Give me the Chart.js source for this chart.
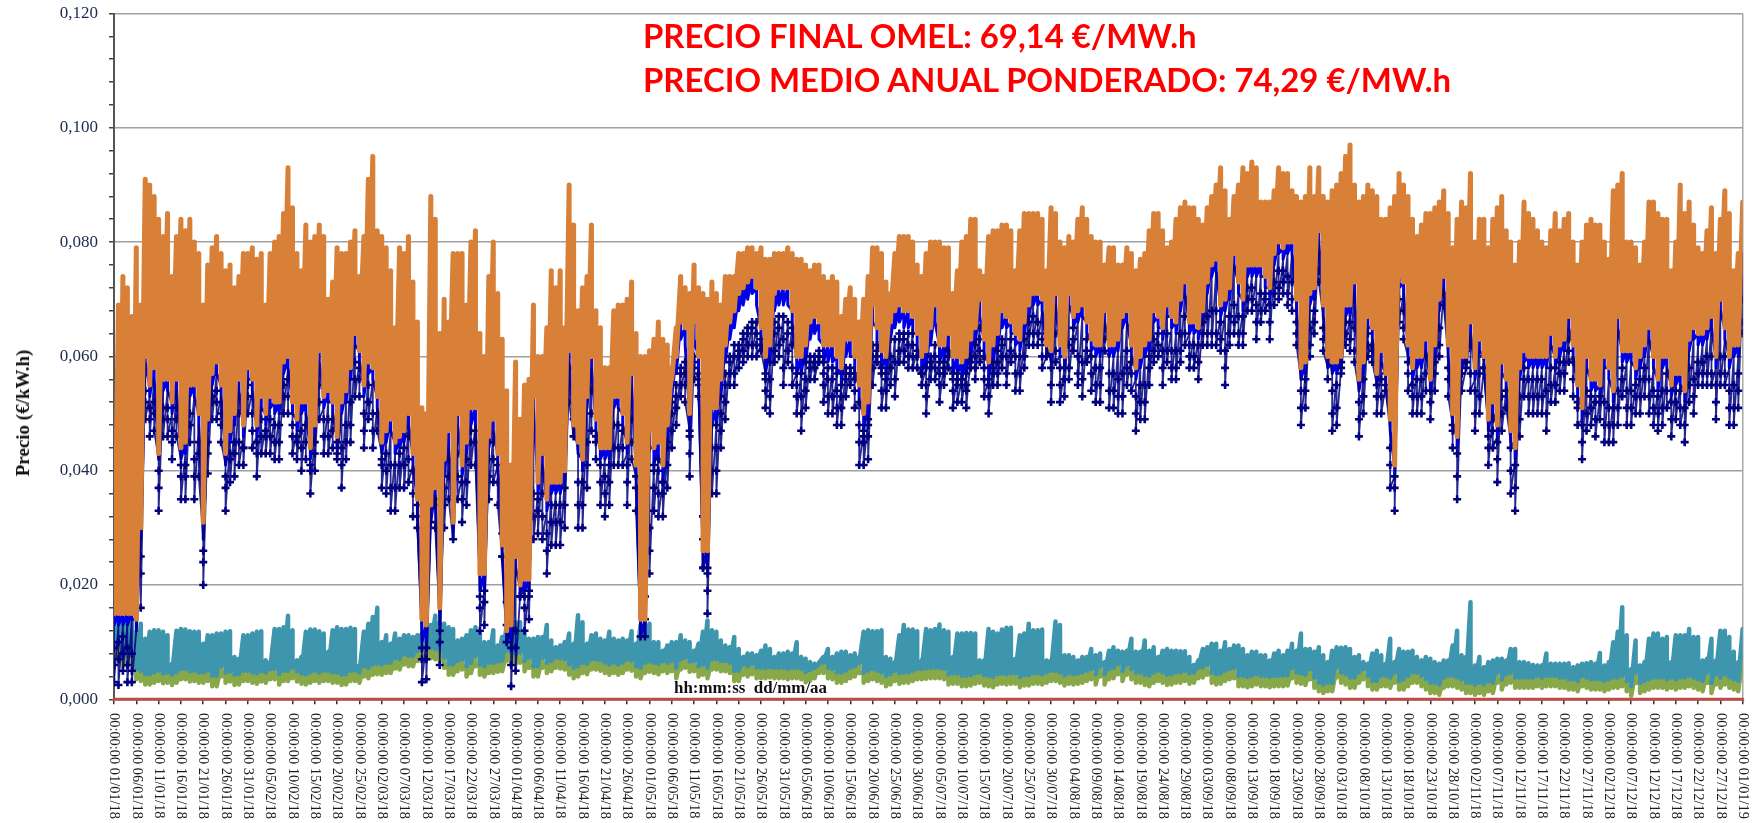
<!DOCTYPE html>
<html>
<head>
<meta charset="utf-8">
<title>Precio 2018</title>
<script src="https://cdn.jsdelivr.net/npm/chart.js@4/dist/chart.umd.min.js"></script>
<style>
    body { margin: 0; background: #fff; }
    #wrap { position: relative; width: 1756px; height: 823px; overflow: hidden; }
    .cabecera { position: absolute; left: 643px; color: #ff0000; font: bold 32.9px Lato, sans-serif; white-space: nowrap; }
    #ejeY { position: absolute; left: 23px; top: 413px; transform: translate(-50%, -50%) rotate(-90deg); font: bold 19px "Liberation Serif", serif; color: #111; white-space: nowrap; }
    #ejeX { position: absolute; left: 674px; top: 678px; font: bold 16.9px "Liberation Serif", serif; color: #111; white-space: pre; }
</style>
</head>
<body>
<div id="wrap">
    <canvas id="grafico" width="1756" height="823"></canvas>
    <div class="cabecera" style="top:16px">PRECIO FINAL OMEL: 69,14 €/MW.h</div>
    <div class="cabecera" style="top:60px">PRECIO MEDIO ANUAL PONDERADO: 74,29 €/MW.h</div>
    <div id="ejeY">Precio (€/kW.h)</div>
    <div id="ejeX">hh:mm:ss  dd/mm/aa</div>
</div>
<script>
// Tick dates of the time axis, one every 5 days
const tickDates = ["01/01/18","06/01/18","11/01/18","16/01/18","21/01/18","26/01/18","31/01/18","05/02/18","10/02/18","15/02/18","20/02/18","25/02/18",
    "02/03/18","07/03/18","12/03/18","17/03/18","22/03/18","27/03/18","01/04/18","06/04/18","11/04/18","16/04/18","21/04/18","26/04/18",
    "01/05/18","06/05/18","11/05/18","16/05/18","21/05/18","26/05/18","31/05/18","05/06/18","10/06/18","15/06/18","20/06/18","25/06/18","30/06/18",
    "05/07/18","10/07/18","15/07/18","20/07/18","25/07/18","30/07/18","04/08/18","09/08/18","14/08/18","19/08/18","24/08/18","29/08/18",
    "03/09/18","08/09/18","13/09/18","18/09/18","23/09/18","28/09/18","03/10/18","08/10/18","13/10/18","18/10/18","23/10/18","28/10/18",
    "02/11/18","07/11/18","12/11/18","17/11/18","22/11/18","27/11/18","02/12/18","07/12/18","12/12/18","17/12/18","22/12/18","27/12/18","01/01/19"];

const orangeMax = [
34,69,74,72,67,79,69,91,90,88, 84,81,85,74,81,84,82,84,80,78, 69,76,79,81,78,75,76,72,74,78, 78,79,77,78,69,78,80,81,85,93,
86,78,75,83,80,81,83,81,70,73, 79,78,78,80,82,74,81,91,95,82, 81,79,75,65,79,78,81,73,66,51, 50,88,84,64,70,66,78,78,78,69,
80,82,64,60,74,80,71,63,54,41, 59,49,55,56,69,60,60,65,75,72, 75,65,90,83,68,72,74,83,68,65, 58,58,68,69,69,70,73,64,60,60,
61,63,66,63,62,58,65,74,72,71, 76,72,71,70,73,71,69,74,74,74, 78,78,79,79,78,79,77,77,78,78, 78,79,78,77,77,76,75,76,76,74,
73,74,73,67,70,72,70,66,70,74, 79,79,78,73,71,78,81,81,81,80, 76,74,78,80,80,80,79,79,71,75, 80,81,84,84,75,74,81,82,82,83,
83,82,75,82,85,85,85,85,84,75, 86,85,80,79,81,80,84,86,84,81, 80,80,76,79,79,76,76,79,78,75, 77,78,82,85,85,82,79,80,84,86,
87,86,86,84,83,86,88,90,93,89, 84,88,90,93,92,94,93,87,87,87, 89,93,92,92,89,88,87,88,93,88, 93,88,87,89,90,92,95,97,90,87,
88,90,89,88,84,84,86,88,92,90, 88,84,81,83,85,85,86,87,89,85, 79,84,87,86,92,80,84,84,79,84, 86,88,82,80,76,80,87,85,84,82,
80,79,82,85,82,84,85,80,76,80, 83,84,83,83,80,77,89,90,92,80, 80,79,76,80,87,87,85,84,84,75, 80,90,85,87,83,79,78,82,86,78,
84,89,85,75,78,87];
const orangeMin = [
15,15,15,15,15,14,30,60,55,58, 43,56,56,52,56,44,45,55,55,50, 31,49,57,59,55,43,47,50,56,48, 58,56,48,53,50,53,52,52,59,60,
52,49,52,52,44,48,61,53,54,52, 46,52,54,58,64,61,55,59,58,53, 45,47,49,45,46,47,50,43,35,14, 13,34,37,16,42,47,31,50,41,45,
51,51,22,22,46,49,43,27,12,13, 25,20,21,21,53,38,43,35,38,38, 38,40,61,48,45,42,53,60,49,44, 44,44,53,53,50,45,57,41,14,14,
47,44,45,41,48,56,60,66,65,50, 66,60,26,26,51,51,56,62,66,68, 71,72,73,74,72,65,60,62,71,72, 72,72,68,60,60,62,66,67,66,62,
62,62,60,58,63,63,60,55,50,52, 69,65,61,60,66,68,69,68,68,67, 64,60,61,65,69,62,62,64,60,60, 59,60,63,65,70,63,59,62,64,68,
67,66,64,63,66,69,71,71,70,62, 61,71,62,60,71,67,68,69,66,63, 62,62,68,62,62,63,67,68,62,58, 60,62,63,68,67,65,69,67,66,70,
73,66,66,65,68,73,76,77,69,70, 72,78,73,70,76,76,76,76,74,72, 78,80,79,80,80,70,58,59,71,72, 82,69,60,59,59,60,69,69,73,56,
59,67,65,57,61,57,49,41,74,73, 62,58,60,60,63,56,62,70,74,62, 50,46,60,60,66,58,63,60,49,52, 48,59,56,47,44,58,61,60,60,60,
60,60,64,60,62,63,67,62,55,51, 60,56,56,55,60,58,54,67,61,61, 61,58,60,62,65,60,56,60,60,55, 57,57,54,63,65,64,64,65,67,60,
70,65,60,62,62,78];
const blueMin = [
13,13,13,13,14,12,28,59,53,56, 42,54,54,50,54,42,43,53,53,48, 28,47,55,57,53,41,45,48,54,46, 56,54,46,51,48,51,50,50,57,58,
50,47,50,50,42,46,59,51,52,50, 44,50,52,56,62,59,53,57,56,51, 43,45,47,43,44,45,48,41,32,10, 10,31,35,13,39,44,28,48,39,43,
48,48,19,19,44,47,41,25,10,10, 23,18,19,19,51,36,41,33,36,36, 36,38,59,46,43,40,51,58,47,42, 42,42,51,51,48,43,55,39,11,11,
44,41,42,38,45,53,57,63,62,47, 63,57,23,23,48,48,53,59,63,65, 68,69,70,71,69,62,57,59,68,69, 69,69,65,57,57,59,63,64,63,59,
59,59,57,55,60,60,57,52,47,49, 66,62,58,57,63,65,66,65,65,64, 61,57,58,62,66,59,59,61,57,57, 56,57,60,62,67,60,56,59,61,65,
65,64,62,61,64,67,69,69,68,60, 59,69,60,58,69,65,66,67,64,61, 60,60,66,60,60,61,65,66,60,56, 58,60,61,66,65,63,67,65,64,68,
71,64,64,63,66,71,74,75,67,68, 70,76,71,68,74,74,74,74,72,70, 76,78,77,78,78,68,56,57,69,70, 80,67,58,57,57,58,67,67,71,54,
57,65,63,55,59,55,47,39,72,71, 60,56,58,58,61,54,60,68,72,60, 48,44,58,58,64,56,61,58,47,50, 46,57,54,45,42,56,59,58,58,58,
58,58,62,58,60,61,65,60,53,49, 58,54,54,53,58,56,52,65,59,59, 59,56,58,60,63,58,54,58,58,53, 55,55,52,61,63,62,62,63,65,58,
68,63,58,60,60,74];
// Top of the navy stems for days 120 to 199, where white shows between them and the blue caps
const navyTopSummer = [
44,41,42,38,45,52,55,58,59,47, 60,57,23,23,48,48,53,57,60,62, 62,64,65,66,66,62,57,59,66,67, 67,66,65,57,57,59,60,60,60,59,
58,58,57,55,58,58,57,52,47,49, 62,62,58,57,63,63,64,64,64,64, 61,57,58,60,62,59,59,61,57,57, 56,57,60,62,65,60,56,59,61,63];
const navyUpper = [
9,10,11,9,8,38,25,54,51,52, 40,51,51,47,51,41,41,50,42,45, 26,45,53,54,50,39,43,45,50,44, 55,50,45,49,47,49,48,48,55,56,
48,46,47,48,41,45,55,49,49,49, 43,44,48,52,59,58,50,55,50,50, 42,43,41,41,43,44,46,40,32,9, 9,31,35,12,37,42,28,43,38,42,
47,47,18,19,42,45,41,25,10,9, 12,18,18,19,36,35,36,29,34,34, 34,37,58,46,38,38,45,54,46,41, 39,41,48,48,47,41,49,39,11,11,
30,40,40,38,44,50,53,57,57,46, 59,56,23,22,44,44,50,55,59,60, 61,63,64,65,64,62,56,56,64,65, 63,64,62,55,53,56,59,59,60,57,
56,56,54,53,57,57,56,48,46,48, 60,61,57,56,60,59,63,63,62,62, 60,57,55,59,60,57,58,60,56,56, 56,55,59,60,63,58,55,58,59,62,
60,63,60,60,63,66,67,66,63,60, 58,64,58,58,62,65,60,59,63,60, 58,58,65,57,57,56,57,61,59,53, 55,55,60,63,64,61,64,61,61,64,
67,62,62,62,66,67,68,68,66,61, 67,69,67,67,72,72,69,71,71,69, 73,75,75,74,73,66,54,56,65,68, 78,65,56,54,55,58,66,66,65,52,
56,64,62,55,56,55,44,39,70,68, 59,55,56,56,60,54,59,65,71,58, 48,43,57,58,62,54,57,58,46,49, 45,53,54,44,41,53,58,56,56,56,
56,54,58,58,59,59,63,59,52,48, 54,53,52,53,52,51,51,54,58,54, 54,55,56,58,56,54,53,54,57,52, 54,54,51,58,56,59,59,60,60,55,
60,60,54,55,57,70];
const navyMid = [
6,7,8,6,5,35,22,52,49,50, 37,49,49,45,49,39,39,48,39,43, 24,43,52,52,48,37,42,43,45,44, 53,47,43,46,46,46,45,45,53,53,
46,45,44,45,40,43,52,46,46,47, 45,41,45,48,56,56,47,52,47,50, 41,40,37,37,41,41,42,36,34,7, 7,38,34,10,34,39,39,39,35,38,
45,45,16,17,39,42,38,29,17,6, 9,22,16,18,32,33,32,26,31,31, 31,34,55,52,34,34,41,50,45,38, 36,38,44,44,44,38,45,37,37,18,
26,37,36,36,41,47,51,55,55,43, 58,55,32,19,40,40,47,52,57,57, 60,61,62,62,62,63,54,53,61,62, 58,61,58,53,50,54,58,58,61,55,
53,53,51,51,56,57,54,45,45,46, 58,60,54,54,58,56,61,61,60,60, 60,57,53,58,58,55,57,60,54,55, 55,54,60,58,61,56,53,57,57,60,
57,61,57,57,60,64,64,64,60,64, 55,61,55,56,58,63,57,56,61,57, 55,55,63,54,54,53,53,58,57,50, 52,52,58,61,62,58,61,58,58,61,
64,60,60,59,64,64,64,64,63,58, 64,66,64,64,70,70,66,68,70,66, 71,72,73,71,70,64,51,54,62,66, 75,63,63,50,51,59,64,63,61,49,
53,62,61,53,53,57,41,37,68,65, 57,53,53,53,57,52,57,62,71,56, 47,39,57,61,57,50,53,60,44,47, 42,50,54,40,37,49,56,53,53,53,
53,50,55,55,57,57,61,56,51,45, 50,51,49,52,48,48,48,51,56,51, 51,53,53,56,53,51,50,51,54,49, 52,51,48,55,53,57,57,57,57,52,
57,57,51,51,54,66];
const navyMin = [
3,2.5,5,3,3,31,16,49,46,47, 33,46,46,42,46,35,35,45,35,39, 20,39.5,49,49,45,33,38,39,41,41, 50,44,39,43,43,43,42,42,50,50,
43,42,40,42,36,40,49,43,43,44, 42,37,42,45,53,53,44,49,44,47, 37,36,33,33,37,37,38,32,30,3, 3.5,34,30,6,30,35,35,35,31,34,
41,41,12,13,35,38,34,25,13,2.3, 5,18,12,14,28,29,28,22,27,27, 27,30,52,49,30,30,37,47,42,34, 32,34,41,41,41,34,42,33,33,14,
22,33,32,32,37,44,48,53,52,39, 56,53,28,15,36,36,44,49,55,55, 58,59,60,60,60,61,51,50,59,60, 55,59,55,50,47,51,56,56,59,52,
50,50,48,48,53,55,51,41,41,42, 55,59,51,51,55,53,59,59,58,58, 58,55,50,56,56,52,55,58,51,52, 52,51,58,56,59,53,50,55,55,58,
55,59,54,54,58,62,62,62,58,62, 52,59,52,53,56,61,55,53,59,54, 52,52,61,51,51,50,50,55,54,47, 49,49,55,59,60,55,59,56,56,59,
62,58,58,56,62,62,62,62,61,55, 62,64,62,62,68,68,63,66,68,63, 69,70,71,69,68,62,48,51,60,64, 73,61,61,47,48,57,62,61,59,46,
50,60,59,50,50,54,37,33,66,63, 54,50,50,50,54,49,54,60,69,53, 44,35,54,59,54,47,50,58,41,44, 38,47,51,36,33,46,53,50,50,50,
50,47,52,52,54,54,59,53,48,42, 47,48,46,49,45,45,45,48,53,48, 48,50,50,53,50,48,47,48,51,46, 49,48,45,52,50,55,55,55,55,49,
55,55,48,48,51,64];
const tealMax = [
13.2,13.5,13.5,13.8,13.8,11.8,13.2,10.6,11.8,12.1, 12.1,11.8,11.2,6.2,12,12.3,12.2,11.9,11.8,11.8, 9.7,11.2,11.2,11.5,11.5,11.8,11.9,7.4,7.1,11.2,
11.2,11.5,11.8,11.9,6.8,6.5,12.3,12.3,12.6,14.6, 12.1,6.8,7.4,11.8,12.2,12.2,11.9,11.5,8.3,12.1, 12.6,12.3,12.3,12.5,12.3,5.9,11.8,13.2,14.4,16,
10,11.2,9.7,11.5,10.6,11.2,11.2,10.9,11.2,11.5, 13,13,14.6,13.5,13.2,12.6,12.3,10.3,10.6,11.2, 12.1,12.6,11.8,10,10,12.1,9.4,10.9,13,13.2,
13.5,13.5,12.1,10.6,10.6,10.9,10.9,13,10.3,9.1, 9.4,10,11.5,9.7,14.7,13.5,9.7,11.2,11.5,10.6, 10.3,11.8,10.6,10.3,10.6,10.3,11.9,9.7,13,13,
13.2,10,10,8.5,9.4,10,10,11.2,10.3,10, 8.5,9.7,11.8,13.8,12.1,11.8,10.3,9.4,9.1,10.9, 8.8,7.4,8,8,7.7,8.5,9.4,8.8,7.4,8,
8,8.3,8,10,7.4,7.1,6.5,6.2,6.2,7.4, 8.8,7.4,8,8.3,8.3,7.7,8,7.4,11.8,12.1, 11.9,11.9,12.1,7.4,7.1,6.5,11.2,13,12.2,12.2,
11.9,6.8,12.3,12.1,12.3,13.1,12.1,11.8,7.4,11.5, 11.5,11.6,11.6,11.5,6.8,6.8,12.3,11.8,11.5,12.2, 12.5,12.5,7.1,11.2,11.5,13.2,12.1,12.1,12.2,6.8,
6.8,13.6,13,7.7,7.7,7.4,6.8,7.4,7.4,8.8, 7.7,8,6.5,8.5,9.1,8.5,8.3,8.5,10.6,8.3, 8.3,10.3,8.5,9.1,7.4,8.5,8.8,8.5,8.5,8.4,
8.4,7.4,6,6.8,8.8,9.1,9.7,9.7,8.5,10, 8.8,9.4,9.4,8.8,7.7,8.3,8.3,7.7,7.7,6.8, 8,8.5,7.7,8.5,9.7,8.5,11.5,8.8,8.8,8.3,
9.1,7.7,6.5,8.5,9.1,9,9.1,8.8,7.4,7.7, 6.5,6.2,8,8.5,7.7,6.2,10.6,6.5,8.8,8.3, 8.3,8.5,7.4,6.8,7.4,7.1,6.5,6.2,6.8,6.8,
9.4,12,7.7,7.4,17,5.9,7.4,5.6,6.5,6.8, 7.1,7.1,6.8,8.8,8.8,6.5,6.5,6.3,6,5.9, 5.9,8,6.2,6.2,6.2,6.2,6.3,5.6,5.9,6.2,
6.3,6.5,6.2,8.1,5.9,6.5,10,11.8,16.1,11.2, 5.3,10.3,5.9,6.5,10.6,11.5,11.5,10.6,10.9,6.5, 11.2,11.2,11.2,12.3,10.9,10.9,6.8,7.1,10.6,6.8,
12,12,10.9,8.3,6.5,12.3];
const tealMin = [
9.3,9.3,7.6,7.6,8.5,5.3,5,4.4,4.4,4.7, 5,4.5,4.7,4.3,4.7,5.3,5.3,4.9,5,4.7, 4.7,5,4.1,4.1,5.8,4.7,4.9,4.3,4.4,5,
5,4.7,4.5,4.9,4.7,5.3,5.3,4.4,5,5, 5.5,4.9,4.5,4.4,4.7,5,4.7,5,5,4.7, 4.7,4.3,4.4,5,5,4.7,5.8,5.5,6.1,6.2,
6.1,6.4,6.4,7.2,7,7.9,7.6,7.6,8.5,8.5, 8.8,9,8.8,8.5,7.3,6.1,6.1,6.7,7,5.8, 6.4,7.6,6.1,5.8,6.4,6.4,6.6,6.7,8.5,8.2,
7.9,8.2,6.7,7.3,5.8,5.8,7.3,6.4,6.7,7.3, 7.2,7,6.1,5.5,5.8,6.4,6.2,7,7,6.8, 6.4,6.1,6.4,6.1,6.4,7,6.8,5.8,5.5,6.4,
6.6,6.4,6.2,6.7,6.4,6.7,5.5,7,7.3,6.6, 6.7,5.8,6.1,5.5,7,7,6.7,6.7,6.4,5, 5,6.1,5.8,6.2,5.5,5.5,5.5,5.6,5.5,5.5,
5.5,5.3,5.5,5.5,5.3,4.8,5.1,5.5,6.4,6.4, 5.5,5.3,4.7,4.7,5,5.5,5.8,6.4,4.7,5, 5.3,5,4.7,4.1,4.4,5,4.5,4.7,4.7,5,
5.3,5.3,5.4,5.5,5.5,5.5,5.3,4.4,4.5,4.5, 4.1,4.1,4.2,4.5,4.7,4.2,4.1,3.9,4.4,4.5, 4.4,4.5,4.5,3.9,4.2,4.2,4.5,4.5,4.4,4.7,
5,5,4.7,4.2,4.5,4.4,4.5,4.7,5,5.3, 4.4,5.8,4.4,5.3,5.5,6.2,5,6.1,5.3,4.7, 4.7,4.3,4.1,4.7,5,4.7,4.3,4.4,4.7,4.7,
5,4.5,4.7,5.5,5.6,6.1,4.7,4.4,4.5,5, 5.3,5.5,4.1,4.1,3.9,4.1,4.4,4.1,4.1,3.9, 4.1,4.1,4.1,4.2,5.5,4.7,4.5,4.3,5.3,3.8,
2.9,2.6,2.9,2.9,5.6,4.7,4.4,3.8,3.8,4.7, 5.3,4.1,3.2,3.2,4.1,4.1,3.8,4.7,3.2,3.5, 4.1,4.7,4.7,4.1,3.5,2.9,2.9,2.6,3.8,4.1,
4.1,3.8,3.5,2.9,2.9,2.6,2.9,2.6,3.2,2.9, 4.7,3.5,4.4,4.7,3.8,3.8,3.8,3.8,3.8,4.1, 3.8,4.1,4.1,4.1,3.8,3.8,3.5,3.5,3.2,4.1,
3.8,3.5,3.5,3.5,3.2,3.5,3.8,3.8,4.1,3.2, 2.3,4.7,2.9,3.2,3.5,3.8,3.8,3.8,3.5,3.8, 3.5,3.8,3.8,4.1,3.8,3.5,3.2,4.7,2.9,4.4,
3.8,4.4,3.8,3.5,3.2,7.3];
const greenMin = [
7.5,7.5,5.8,5.8,6.5,3.5,3.2,2.6,2.6,2.9, 3.2,2.8,2.9,2.5,2.9,3.5,3.5,3.1,3.2,2.9, 2.9,3.2,2.3,2.3,4,2.9,3.1,2.5,2.6,3.2,
3.2,2.9,2.7,3.1,2.9,3.5,3.5,2.6,3.2,3.2, 3.7,3.1,2.7,2.6,2.9,3.2,2.9,3.2,3.2,2.9, 2.9,2.5,2.6,3.2,3.2,2.9,4,3.7,4.3,4.4,
4.3,4.6,4.6,5.4,5.2,6.1,5.8,5.8,6.7,6.7, 7,7.2,7,6.7,5.5,4.3,4.3,4.9,5.2,4, 4.6,5.8,4.3,4,4.6,4.6,4.8,4.9,6.7,6.4,
6.1,6.4,4.9,5.5,4,4,5.5,4.6,4.9,5.5, 5.4,5.2,4.3,3.7,4,4.6,4.4,5.2,5.2,5, 4.6,4.3,4.6,4.3,4.6,5.2,5,4,3.7,4.6,
4.8,4.6,4.4,4.9,4.6,4.9,3.7,5.2,5.5,4.8, 4.9,4,4.3,3.7,5.2,5.2,4.9,4.9,4.6,3.2, 3.2,4.3,4,4.4,3.7,3.7,3.7,3.8,3.7,3.7,
3.7,3.5,3.7,3.7,3.5,3,3.3,3.7,4.6,4.6, 3.7,3.5,2.9,2.9,3.2,3.7,4,4.6,2.9,3.2, 3.5,3.2,2.9,2.3,2.6,3.2,2.7,2.9,2.9,3.2,
3.5,3.5,3.6,3.7,3.7,3.7,3.5,2.6,2.7,2.7, 2.3,2.3,2.4,2.7,2.9,2.4,2.3,2.1,2.6,2.7, 2.6,2.7,2.7,2.1,2.4,2.4,2.7,2.7,2.6,2.9,
3.2,3.2,2.9,2.4,2.7,2.6,2.7,2.9,3.2,3.5, 2.6,4,2.6,3.5,3.7,4.4,3.2,4.3,3.5,2.9, 2.9,2.5,2.3,2.9,3.2,2.9,2.5,2.6,2.9,2.9,
3.2,2.7,2.9,3.7,3.8,4.3,2.9,2.6,2.7,3.2, 3.5,3.7,2.3,2.3,2.1,2.3,2.6,2.3,2.3,2.1, 2.3,2.3,2.3,2.4,3.7,2.9,2.7,2.5,3.5,2,
1.4,1.1,1.4,1.4,3.8,2.9,2.6,2,2,2.9, 3.5,2.3,1.7,1.7,2.3,2.3,2,2.9,1.7,1.7, 2.3,2.9,2.9,2.3,1.7,1.1,1.1,0.8,2,2.3,
2.3,2,1.7,1.1,1.1,0.8,1.1,0.8,1.4,1.1, 2.9,1.7,2.6,2.9,2,2,2,2,2,2.3, 2,2.3,2.3,2.3,2,2,1.7,1.7,1.4,2.3,
2,1.7,1.7,1.7,1.4,1.7,2,2,2.3,1.4, 0.6,2.9,1.1,1.4,1.7,2,2,2,1.7,2, 1.7,2,2,2.3,2,1.7,1.4,2.9,1.1,2.6,
2,2.6,2,1.7,1.4,5.5];
const redDays = [0, 365];
const redValues = [0, 0];

// Each day goes from its high to its low, the way the hourly curve zigzags
function zigzag(levels) {
    const points = [];
    levels[0].forEach(function (v, day) {
        levels.forEach(function (level) {
            points.push({ x: day, y: level[day] });
        });
    });
    return points;
}

const navyTop = blueMin.map(function (v, day) {
    return day >= 120 && day < 200 ? navyTopSummer[day - 120] : v;
});

function lineSet(points, color, width, order) {
    return {
        data: points,
        borderColor: color,
        backgroundColor: color,
        borderWidth: width,
        borderJoinStyle: "round",
        borderCapStyle: "round",
        pointRadius: 0,
        tension: 0,
        order: order,
    };
}

const navySet = lineSet(zigzag([navyTop, navyUpper, navyMid, navyMin]), "rgba(0,0,128,0.85)", 1.8, 4);
navySet.pointStyle = "cross";
// No marker on the stem tops except in summer, where they are not hidden by the blue caps
navySet.pointRadius = function (ctx) {
    const isTop = ctx.dataIndex % 4 === 0;
    const day = Math.floor(ctx.dataIndex / 4);
    return isTop && (day < 120 || day >= 200) ? 0 : 4;
};
navySet.pointBorderColor = "#000080";
navySet.pointBackgroundColor = "#000080";
navySet.pointBorderWidth = 2.6;

const redSet = lineSet(redDays.map(function (d, i) { return { x: d, y: redValues[i] }; }), "#bd4b48", 3, 1);
redSet.clip = false;

// The date labels read downwards, which the scale itself cannot align, so they are drawn here
const dateLabels = {
    id: "dateLabels",
    afterDraw: function (chart) {
        const ctx = chart.ctx;
        const xScale = chart.scales.x;
        ctx.save();
        ctx.font = '14.4px "Liberation Serif", serif';
        ctx.fillStyle = "#1a1a1a";
        ctx.textAlign = "left";
        ctx.textBaseline = "middle";
        tickDates.forEach(function (date, i) {
            ctx.save();
            ctx.translate(xScale.getPixelForValue(i * 5), 713);
            ctx.rotate(Math.PI / 2);
            ctx.fillText("00:00:00 " + date, 0, 0);
            ctx.restore();
        });
        ctx.restore();
    },
};

new Chart(document.getElementById("grafico"), {
    type: "line",
    data: {
        datasets: [
            lineSet(zigzag([tealMin, greenMin]), "#89a84a", 4.5, 6),
            lineSet(zigzag([tealMax, tealMin]), "#3e95ae", 4.5, 5),
            lineSet(zigzag([orangeMin, blueMin]), "#0000e6", 3, 4.5),
            navySet,
            lineSet(zigzag([orangeMax, orangeMin]), "#d87f38", 5, 3),
            redSet,
        ],
    },
    options: {
        responsive: false,
        animation: false,
        events: [],
        layout: { padding: { top: 13.5, right: 13.3, left: 0, bottom: 0 } },
        plugins: { legend: { display: false }, tooltip: { enabled: false }, title: { display: false } },
        scales: {
            x: {
                type: "linear",
                min: 0,
                max: 365,
                afterFit: function (scale) { scale.height = 123.7; },
                afterBuildTicks: function (scale) {
                    scale.ticks = tickDates.map(function (d, i) { return { value: i * 5 }; });
                },
                ticks: { display: false },
                border: { color: "#777", width: 1 },
                grid: {
                    color: function (ctx) { return ctx.tick && ctx.tick.value === 365 ? "#a8a8a8" : "transparent"; },
                    tickColor: "#333",
                    tickLength: 5,
                    lineWidth: 1.5,
                },
            },
            y: {
                min: 0,
                max: 120,
                afterFit: function (scale) {
                    scale.width = 114;
                    // the wide tick padding must not push the plot area down
                    scale.paddingTop = 0;
                    scale.paddingBottom = 0;
                },
                ticks: {
                    stepSize: 4,
                    autoSkip: false,
                    padding: 11,
                    color: "#1b2a4e",
                    font: { family: '"Liberation Serif", serif', size: 17 },
                    callback: function (v) {
                        return v % 20 === 0 ? (v / 1000).toFixed(3).replace(".", ",") : "";
                    },
                },
                border: { color: "#555", width: 2 },
                grid: {
                    color: function (ctx) { return ctx.tick && ctx.tick.value % 20 === 0 ? "#a0a0a0" : "transparent"; },
                    tickColor: "#444",
                    tickLength: 5,
                    lineWidth: 1.5,
                },
            },
        },
    },
    plugins: [dateLabels],
});
</script>
</body>
</html>
